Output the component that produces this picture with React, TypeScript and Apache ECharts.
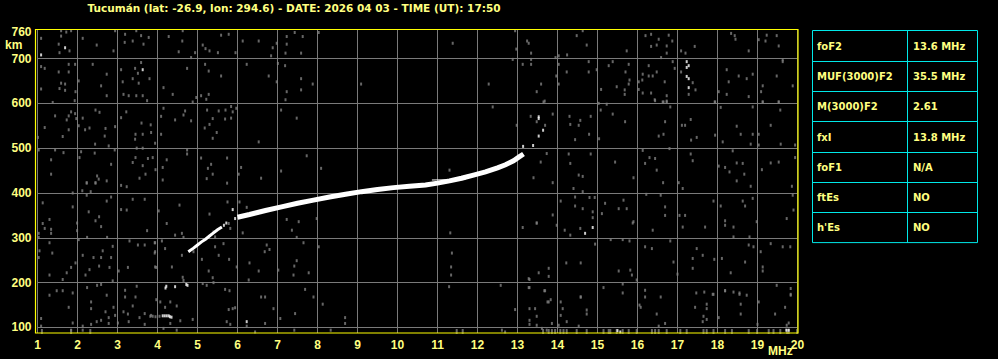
import React, { useEffect, useRef } from "react";
import * as echarts from "echarts";

const titleText = "Tucumán (lat: -26.9, lon: 294.6) - DATE: 2026 04 03 - TIME (UT): 17:50";
const yLabelValues = [100, 200, 300, 400, 500, 600, 700, 760];
const yGridValues = [100, 200, 300, 400, 500, 600, 700];
const tableLabels = ["foF2", "MUF(3000)F2", "M(3000)F2", "fxI", "foF1", "ftEs", "h'Es"];
const tableValues = ["13.6 MHz", "35.5 MHz", "2.61", "13.8 MHz", "N/A", "NO", "NO"];

// F-region trace (MHz, km)
const traceLow = [[4.77, 269], [4.9, 277], [5.0, 284], [5.1, 291], [5.2, 297], [5.3, 304], [5.4, 311], [5.5, 318], [5.61, 324]];
const traceF2 = [
  [6.0, 346], [6.3, 352], [6.7, 361], [7.1, 369], [7.5, 377], [7.9, 384], [8.3, 391],
  [8.7, 397], [9.1, 403], [9.5, 408], [9.9, 412], [10.3, 415], [10.7, 418], [11.0, 422], [11.3, 427], [11.6, 433], [11.9, 440],
  [12.2, 447], [12.5, 456], [12.7, 463], [12.9, 472], [13.05, 481], [13.15, 487],
];
const traceThin = [[10.86, 429], [11.7, 430]];

const whiteDots = [
  [4.13, 126], [4.18, 126], [4.23, 126], [4.28, 126], [4.31, 124], [4.35, 123],
  [4.2, 188], [4.22, 192], [4.44, 191], [4.72, 196], [4.75, 194], [5.66, 328], [5.72, 333],
  [17.23, 693], [17.28, 684], [17.23, 680], [17.23, 660], [17.28, 655], [17.28, 635],
  [1.09, 708], [1.69, 724], [3.63, 675], [6.23, 113], [14.88, 323], [14.69, 310],
  [5.94, 343], [5.88, 363], [13.14, 504], [13.39, 506], [13.53, 527], [13.64, 540],
  [13.53, 570], [13.53, 566], [15.5, 93], [15.57, 90], [19.72, 94], [19.78, 94],
];

const noisePoints = [
  [1.59, 762], [1.59, 750], [1.72, 759], [1.84, 762], [1.09, 745], [1.53, 732], [1.55, 713], [1.8, 717],
  [2.13, 745], [2.48, 730], [2.9, 717], [2.94, 762], [3.19, 754], [3.18, 736], [3.47, 762], [3.59, 751],
  [3.65, 732], [3.78, 747], [3.38, 739], [4.28, 749], [4.53, 715], [4.63, 762], [4.62, 739], [4.84, 702],
  [4.94, 713], [5.13, 730], [5.2, 722], [5.3, 717], [5.51, 713], [5.59, 752], [5.78, 754], [5.95, 713],
  [6.13, 739], [6.53, 739], [6.88, 724], [6.98, 734], [7.23, 749], [7.23, 732], [7.43, 758], [7.63, 749],
  [7.59, 712], [7.2, 712], [8.03, 758], [6.84, 706],
  [1.09, 682], [1.18, 678], [1.53, 670], [1.78, 687], [1.94, 687], [1.78, 670], [2.03, 650], [1.59, 645],
  [1.69, 643], [1.55, 633], [1.69, 629], [1.09, 632], [1.95, 626], [2.38, 687], [2.73, 665], [2.59, 639],
  [2.73, 617], [1.93, 606], [1.38, 602], [3.09, 675], [3.44, 678], [3.59, 691], [3.51, 667], [3.38, 655],
  [3.13, 648], [3.8, 655], [3.53, 645], [3.28, 617], [3.47, 617], [3.63, 617], [3.74, 606], [3.15, 620],
  [4.15, 635], [4.38, 620], [4.74, 678], [5.28, 672], [5.19, 687], [5.59, 661], [4.97, 613], [5.09, 617],
  [5.22, 609], [5.28, 620], [4.88, 603], [6.23, 687], [6.78, 661], [7.01, 689], [7.19, 684], [7.59, 655],
  [7.88, 643], [7.59, 630], [7.23, 626], [7.2, 608], [6.98, 648], [9.09, 643],
  [1.84, 581], [1.94, 577], [1.78, 572], [1.73, 563], [1.97, 566], [1.44, 572], [1.18, 546], [1.01, 524],
  [1.63, 526], [1.78, 541], [2.13, 567], [2.03, 550], [2.19, 541], [2.3, 545], [2.45, 585], [2.55, 580],
  [2.7, 544], [2.94, 548], [2.68, 527], [2.78, 505], [2.44, 509], [3.22, 581], [3.09, 568], [3.6, 556],
  [3.45, 531], [3.44, 520], [3.63, 531], [3.83, 552], [3.84, 535], [3.94, 511], [4.09, 531], [4.15, 589],
  [4.09, 571], [4.44, 563], [4.65, 574], [4.69, 583], [4.84, 561], [5.24, 585], [5.18, 545], [5.3, 553],
  [5.38, 566], [5.53, 583], [5.7, 585], [5.84, 593], [5.97, 589], [5.88, 581], [5.69, 565], [5.84, 567],
  [5.48, 535], [5.38, 522], [6.53, 514], [7.09, 585], [7.48, 567],
  [1.03, 496], [1.44, 496], [1.65, 490], [1.34, 474], [1.34, 442], [2.09, 492], [2.05, 479], [2.43, 489],
  [2.84, 464], [2.49, 438], [2.53, 431], [2.73, 427], [2.45, 422], [2.23, 422], [2.93, 496], [3.48, 500],
  [3.63, 500], [3.45, 479], [3.38, 468], [3.63, 461], [3.76, 477], [3.88, 479], [3.95, 452], [3.7, 442],
  [3.55, 433], [4.13, 457], [4.23, 474], [4.13, 429], [4.74, 496], [4.74, 487], [5.09, 478], [5.34, 464],
  [5.26, 455], [5.38, 442], [5.23, 432], [5.74, 478], [5.74, 422], [6.09, 457], [6.03, 442], [6.59, 433],
  [7.09, 449], [7.73, 483], [8.09, 455],
  [2.23, 423], [2.45, 423], [3.09, 417], [3.23, 414], [2.12, 405], [2.33, 403], [1.88, 400], [2.23, 395],
  [2.84, 391], [2.73, 382], [1.13, 378], [1.88, 369], [2.28, 358], [3.09, 363], [3.23, 362], [3.38, 386],
  [3.68, 386], [1.3, 341], [1.13, 332], [1.18, 321], [1.34, 319], [1.34, 310], [1.03, 310], [1.03, 301],
  [2.54, 347], [2.45, 338], [2.59, 325], [1.99, 333], [1.99, 316], [1.3, 289], [2.03, 296], [2.24, 301],
  [2.74, 301], [3.3, 293], [3.51, 284], [3.68, 284], [3.93, 289], [3.74, 316], [2.88, 281], [1.05, 271],
  [1.37, 266], [1.03, 256], [2.13, 261], [2.63, 271], [2.4, 256], [2.59, 256], [2.84, 256], [2.54, 237],
  [2.3, 229], [2.8, 234], [3.03, 226], [3.26, 234], [1.95, 244], [1.84, 234], [1.73, 222], [1.63, 207],
  [1.3, 217], [2.2, 217], [2.88, 204], [3.97, 234], [3.93, 266], [2.49, 194], [2.59, 196], [2.24, 189],
  [1.48, 182], [1.63, 182], [1.3, 172], [1.88, 177], [2.73, 172], [3.19, 183], [3.48, 192], [3.45, 168],
  [3.19, 168], [1.78, 145], [2.34, 157], [2.34, 142], [2.9, 145], [2.7, 135], [2.94, 127], [3.15, 135],
  [3.38, 148], [3.26, 130], [3.55, 122], [3.68, 131], [3.84, 127], [1.09, 120], [1.88, 110], [2.34, 107],
  [2.48, 113], [2.59, 116], [2.78, 122], [2.78, 109], [3.01, 110], [3.28, 113], [3.68, 107], [1.09, 103],
  [2.13, 103], [1.84, 94], [2.13, 94], [3.82, 125], [3.88, 125], [3.95, 124], [4.05, 125],
  [4.55, 373], [4.03, 360], [5.3, 353], [5.75, 380], [6.05, 380], [6.23, 368], [4.23, 332], [4.44, 306],
  [4.61, 310], [4.65, 301], [3.94, 289], [4.11, 293], [5.4, 313], [5.44, 302], [5.65, 287], [5.44, 280],
  [5.78, 332], [5.82, 321], [6.13, 311], [6.73, 284], [6.8, 274], [6.68, 269], [7.23, 341], [7.36, 317],
  [7.53, 336], [7.48, 301], [7.65, 289], [7.98, 343], [8.03, 280], [3.94, 269], [4.19, 276], [4.61, 261],
  [4.9, 269], [5.53, 261], [5.11, 252], [5.79, 252], [6.3, 244], [5.98, 235], [3.94, 235], [4.36, 235],
  [5.28, 226], [5.38, 211], [5.4, 200], [5.13, 198], [5.23, 194], [6.28, 206], [6.53, 226], [7.02, 228],
  [7.42, 237], [7.48, 249], [7.4, 217], [7.78, 222], [7.69, 185], [7.9, 168], [8.13, 152], [5.69, 185],
  [5.8, 182], [6.59, 168], [6.69, 168], [4.07, 157], [4.32, 157], [4.19, 145], [4.48, 148], [3.97, 162],
  [6.9, 142], [7.44, 131], [5.78, 140], [5.88, 142], [5.94, 144], [4.88, 118], [4.57, 115], [4.32, 109],
  [5.73, 113], [5.82, 107], [6.23, 103], [6.69, 109], [7.07, 120], [8.69, 122], [8.69, 109], [8.33, 94],
  [7.42, 94], [6.44, 90], [4.48, 94], [4.15, 98], [4.65, 205], [4.63, 212],
  [11.32, 311], [11.36, 266], [11.34, 235], [11.34, 217], [11.29, 191], [12.58, 194], [13.13, 323],
  [13.48, 333], [13.3, 207], [13.3, 189], [13.53, 222], [13.69, 182], [13.78, 232], [13.78, 214],
  [13.75, 157], [12.94, 140], [13.3, 142], [13.44, 142], [13.48, 125], [13.3, 116], [13.3, 107],
  [13.48, 105], [13.61, 98], [13.73, 94], [12.61, 94], [12.69, 90],
  [12.38, 592], [13.65, 603], [15.03, 600], [15.23, 598], [16.44, 606], [16.65, 603], [16.82, 592],
  [16.73, 603], [17.94, 603], [18.08, 591], [18.88, 592], [19.13, 603], [19.57, 585], [19.53, 603],
  [13.33, 571], [13.48, 559], [13.69, 551], [13.88, 576], [12.98, 551], [14.3, 571], [14.57, 562],
  [14.83, 571], [14.53, 551], [14.32, 553], [15.08, 585], [15.38, 576], [15.69, 559], [14.79, 531],
  [14.44, 519], [15.04, 521], [16.53, 527], [16.65, 531], [16.69, 559], [17.11, 551], [17.19, 551],
  [17.33, 564], [17.48, 524], [17.34, 518], [17.94, 529], [18.13, 514], [18.48, 549], [18.58, 531],
  [18.88, 531], [19.03, 531], [19.33, 551], [19.58, 509], [18.83, 509], [19.03, 507], [19.94, 507],
  [11.3, 451], [13.4, 434], [13.73, 488], [13.58, 469], [14.32, 466], [14.28, 487], [14.83, 487],
  [14.53, 440], [14.63, 437], [15.44, 469], [15.9, 434], [16.13, 495], [16.19, 466], [16.3, 479],
  [16.44, 477], [16.48, 451], [16.8, 499], [16.64, 423], [17.03, 423], [17.13, 410], [17.33, 487],
  [17.38, 472], [18.03, 460], [18.19, 457], [18.3, 447], [18.38, 494], [18.48, 467], [18.63, 466],
  [18.67, 442], [18.48, 427], [18.83, 415], [19.11, 452], [19.33, 467], [19.53, 469], [19.86, 415],
  [19.94, 479], [13.88, 423], [14.4, 410], [14.63, 403], [14.44, 391], [14.08, 382], [14.44, 371],
  [14.93, 390], [14.63, 365], [14.88, 358], [14.88, 345], [14.8, 390], [15.19, 377], [15.11, 354],
  [15.53, 365], [15.65, 384], [15.73, 365], [15.9, 336], [16.22, 397], [16.58, 395], [16.69, 369],
  [16.69, 350], [17.05, 350], [17.19, 350], [17.13, 324], [17.69, 324], [17.9, 382], [18.08, 371],
  [18.19, 338], [18.19, 328], [18.4, 324], [18.63, 382], [18.69, 371], [18.88, 388], [18.98, 336],
  [19.73, 343], [19.88, 395], [19.9, 362], [13.48, 333], [13.88, 351], [13.98, 328], [14.18, 317],
  [14.32, 306], [14.57, 321], [14.94, 286], [15.33, 296], [15.63, 296], [15.8, 293], [15.88, 333],
  [16.19, 280], [16.38, 317], [16.82, 293], [16.36, 276], [17.48, 276], [17.63, 261], [17.38, 254],
  [17.38, 232], [16.9, 246], [17.92, 252], [18.11, 254], [18.4, 302], [18.8, 302], [18.78, 284],
  [18.9, 280], [19.08, 269], [19.33, 287], [19.63, 280], [19.82, 280], [19.13, 235], [19.13, 226],
  [18.33, 222], [18.69, 246], [13.28, 209], [13.28, 189], [13.67, 182], [14.22, 244], [14.58, 244],
  [14.58, 168], [15.15, 189], [15.53, 226], [15.82, 228], [15.86, 217], [15.63, 197], [15.98, 206],
  [16.19, 183], [17.0, 219], [17.47, 177], [17.67, 179], [17.9, 174], [18.19, 182], [18.4, 179],
  [18.55, 174], [19.48, 194], [19.83, 187], [19.83, 174],
  [11.38, 734], [12.94, 762], [12.97, 721], [13.24, 739], [13.28, 734], [13.34, 712], [12.88, 698],
  [13.13, 687], [13.34, 687], [13.34, 698], [13.95, 702], [14.03, 706], [14.24, 708], [14.48, 751],
  [14.63, 762], [14.73, 730], [14.03, 687], [14.78, 693], [14.23, 670], [14.78, 670], [14.98, 675],
  [13.97, 661], [13.59, 643], [13.48, 626], [13.68, 605], [14.03, 643], [12.28, 643], [15.73, 717],
  [15.28, 684], [15.38, 693], [15.78, 687], [15.7, 670], [15.8, 652], [15.78, 643], [15.48, 637],
  [15.09, 631], [15.68, 630], [15.68, 620], [16.03, 648], [16.03, 631], [16.2, 751], [16.34, 754],
  [16.53, 743], [16.78, 752], [16.87, 739], [16.73, 728], [16.48, 730], [16.34, 727], [16.73, 712],
  [16.59, 702], [17.09, 717], [17.2, 712], [17.43, 727], [16.88, 693], [16.93, 678], [17.09, 670],
  [16.28, 684], [16.13, 665], [16.28, 661], [16.38, 661], [16.12, 652], [16.48, 670], [16.68, 648],
  [16.34, 623], [16.73, 617], [16.63, 603], [16.73, 605], [16.43, 608], [16.13, 623], [17.38, 646],
  [17.45, 630], [17.28, 620], [18.34, 756], [18.43, 751], [18.45, 743], [19.23, 752], [19.48, 751],
  [19.03, 742], [19.2, 739], [19.53, 728], [18.78, 717], [19.63, 697], [19.63, 693], [18.23, 675],
  [18.53, 661], [18.73, 655], [18.88, 665], [19.48, 661], [18.28, 648], [18.03, 626], [18.23, 620],
  [18.78, 615], [19.13, 639], [19.09, 626], [19.88, 639], [19.13, 603], [19.53, 603], [17.93, 603],
  [13.78, 157], [13.83, 162], [14.08, 157], [14.13, 142], [14.08, 127], [14.23, 113], [13.86, 109],
  [14.03, 105], [14.53, 103], [14.58, 168], [14.73, 139], [14.73, 130], [15.63, 177], [16.05, 150],
  [16.08, 145], [16.19, 168], [16.58, 168], [16.48, 130], [16.69, 109], [16.53, 103], [17.44, 145],
  [17.73, 152], [17.73, 142], [17.65, 125], [17.73, 118], [17.63, 113], [17.88, 174], [18.03, 122],
  [18.19, 182], [18.55, 177], [18.58, 152], [18.73, 172], [18.58, 130], [19.03, 157], [19.0, 107],
  [19.44, 130], [19.69, 145], [19.83, 172], [19.78, 110], [19.73, 105],
];

const noiseBars = [
  13.64, 13.78, 13.86, 13.94, 14.07, 14.15, 14.23, 14.48, 14.73, 15.15, 15.28, 15.32, 15.48, 15.63,
  15.78, 15.98, 16.36, 16.44, 16.53, 16.73, 17.07, 17.23, 17.65, 17.73, 17.9, 18.19, 18.36, 18.78,
  18.99, 19.28, 19.4, 19.57, 19.74, 19.78, 19.99, 11.48, 11.63, 1.11, 1.84, 2.32,
];

const FONT = "'Liberation Sans', Arial, sans-serif";
const WIDE = "'DejaVu Sans', 'Liberation Sans', sans-serif";
const TXT = "#ffff80";

export default function App() {
  const ref = useRef<HTMLDivElement>(null);
  useEffect(() => {
    document.body.style.margin = "0";
    document.body.style.background = "#000";
    const chart = echarts.init(ref.current!, null, { renderer: "svg" });

    const rowH = 30.3;
    const tX = 812.5, tY = 30.5, tW = 165, colX = 907.5;
    const tableGraphics: any[] = [
      { type: "rect", shape: { x: tX, y: tY, width: tW, height: rowH * tableLabels.length }, style: { fill: "none", stroke: "#00e8e8", lineWidth: 1 } },
      { type: "line", shape: { x1: colX, y1: tY, x2: colX, y2: tY + rowH * tableLabels.length }, style: { stroke: "#00e8e8", lineWidth: 1 } },
    ];
    tableLabels.forEach((lab, i) => {
      const y0 = tY + rowH * i;
      if (i > 0) {
        tableGraphics.push({ type: "line", shape: { x1: tX, y1: Math.round(y0) + 0.5, x2: tX + tW, y2: Math.round(y0) + 0.5 }, style: { stroke: "#00e8e8", lineWidth: 1 } });
      }
      tableGraphics.push({ type: "text", x: 817, y: y0 + rowH / 2 + 0.5, style: { text: lab, fill: TXT, font: `bold 10px ${WIDE}`, textVerticalAlign: "middle" } });
      tableGraphics.push({ type: "text", x: 913, y: y0 + rowH / 2 + 0.5, style: { text: tableValues[i], fill: TXT, font: `bold 10px ${WIDE}`, textVerticalAlign: "middle" } });
    });

    const lineSeries = (data: number[][], width: number) => ({
      type: "line",
      data,
      showSymbol: false,
      symbol: "none",
      silent: true,
      lineStyle: { color: "#ffffff", width, cap: "butt", join: "miter" },
      z: 5,
    });

    chart.setOption({
      animation: false,
      backgroundColor: "#000000",
      grid: { left: 37.5, top: 29.5, width: 760, height: 303.5 },
      xAxis: {
        type: "value",
        min: 1,
        max: 20,
        interval: 1,
        axisLine: { show: false },
        axisTick: { show: false },
        axisLabel: { color: TXT, fontWeight: "bold", fontSize: 12, fontFamily: FONT, margin: 6 },
        splitLine: { show: true, lineStyle: { color: "#7a7a7a", width: 1 } },
      },
      yAxis: {
        type: "value",
        min: 87.7,
        max: 764.7,
        axisLine: { show: false },
        axisTick: { show: false },
        splitLine: { show: false },
        axisLabel: {
          customValues: yLabelValues,
          color: TXT,
          fontWeight: "bold",
          fontSize: 12,
          fontFamily: FONT,
          margin: 6,
        },
      },
      series: [
        {
          type: "scatter",
          data: noisePoints,
          symbol: "rect",
          symbolSize: [2, 3],
          itemStyle: { color: "#808080" },
          silent: true,
          z: 3,
          markLine: {
            silent: true,
            symbol: ["none", "none"],
            label: { show: false },
            lineStyle: { color: "#7a7a7a", width: 1, type: "solid" },
            data: yGridValues.map((v) => ({ yAxis: v })),
            z: 1,
          },
        },
        {
          type: "scatter",
          data: noiseBars.map((f) => [f, 91]),
          symbol: "rect",
          symbolSize: [2, 5],
          itemStyle: { color: "#808080" },
          silent: true,
          z: 3,
        },
        lineSeries(traceLow, 3),
        lineSeries(traceF2, 5),
        lineSeries(traceThin, 1),
        {
          type: "scatter",
          data: whiteDots,
          symbol: "rect",
          symbolSize: [2, 3],
          itemStyle: { color: "#ffffff" },
          silent: true,
          z: 6,
        },
      ],
      graphic: [
        { type: "text", x: 294, y: 7.5, style: { text: titleText, fill: TXT, font: `bold 10.5px ${WIDE}`, textAlign: "center", textVerticalAlign: "middle" } },
        { type: "text", x: 5, y: 45, style: { text: "km", fill: TXT, font: `bold 12px ${FONT}`, textVerticalAlign: "middle" } },
        { type: "text", x: 768, y: 351, style: { text: "MHz", fill: TXT, font: `bold 12px ${FONT}`, textVerticalAlign: "middle" } },
        { type: "rect", shape: { x: 35.5, y: 29.5, width: 762.5, height: 303.5 }, style: { fill: "none", stroke: "#ffff00", lineWidth: 1.2 }, z: 100 },
        ...tableGraphics,
      ],
    });
    return () => chart.dispose();
  }, []);
  return <div ref={ref} style={{ width: 998, height: 359 }} />;
}
